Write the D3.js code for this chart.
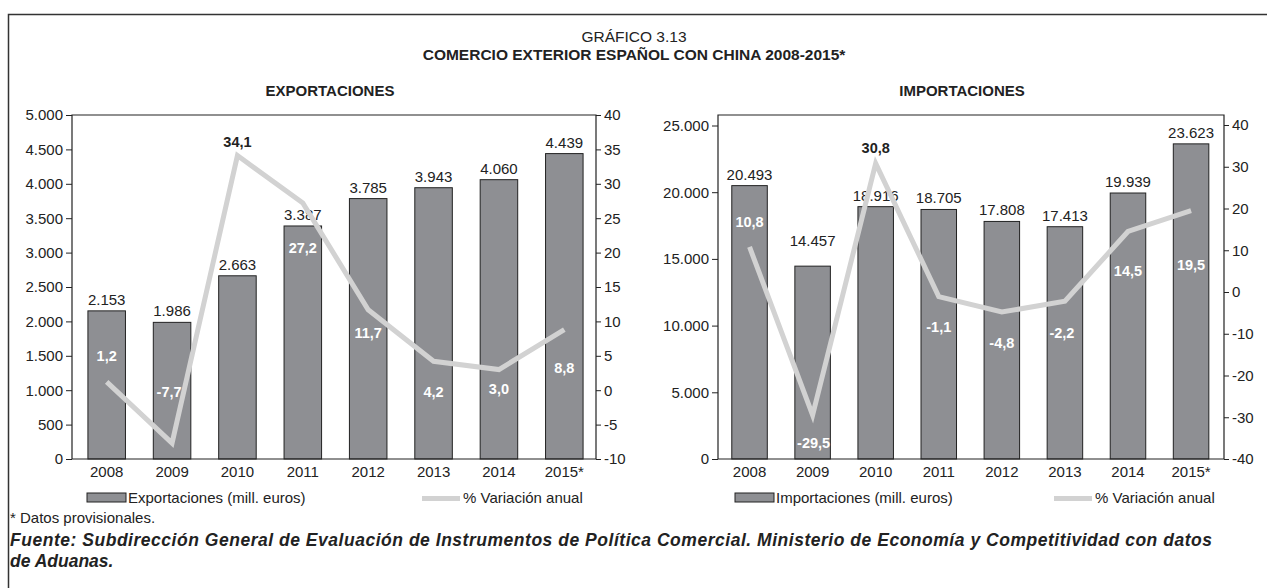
<!DOCTYPE html>
<html>
<head>
<meta charset="utf-8">
<script src="https://cdn.jsdelivr.net/npm/d3@7"></script>
<style>
  html, body { margin: 0; padding: 0; background: #fff; }
  svg { display: block; }
  text { font-family: "Liberation Sans", Arial, Helvetica, sans-serif; fill: #222; }
</style>
</head>
<body>
<svg id="chart" width="1267" height="588"></svg>
<script>
// ---------------- DATA ----------------
const years = ["2008", "2009", "2010", "2011", "2012", "2013", "2014", "2015*"];
const exportValues = [2153, 1986, 2663, 3387, 3785, 3943, 4060, 4439];
const exportPct = [1.2, -7.7, 34.1, 27.2, 11.7, 4.2, 3.0, 8.8];
const importValues = [20493, 14457, 18916, 18705, 17808, 17413, 19939, 23623];
const importPct = [10.8, -29.5, 30.8, -1.1, -4.8, -2.2, 14.5, 19.5];
const exportTicks = [0, 500, 1000, 1500, 2000, 2500, 3000, 3500, 4000, 4500, 5000];
const exportPctTicks = [-10, -5, 0, 5, 10, 15, 20, 25, 30, 35, 40];
const importTicks = [0, 5000, 10000, 15000, 20000, 25000];
const importPctTicks = [-40, -30, -20, -10, 0, 10, 20, 30, 40];

// ---------------- LAYOUT (label nudges in px) ----------------
const exportPctDy = [-21, -46, -9, 50, 28, 36, 24, 43];
const importPctDy = [-20, 33, -10, 35, 36, 37, 45, 59];
const exportPctDx = [0, -3, 0, 0, 0, 0, 0, 0];
const importPctDx = [0, 1, 0, 0, 0, -3, 0, 0];
const exportValueDy = [0, 0, 0, 0, 0, 0, 0, 0];
const importValueDy = [0, -14, 0, 0, 0, 0, 0, 0];

const loc = d3.formatLocale({decimal: ",", thousands: ".", grouping: [3], currency: ["", " €"], minus: "-"});
const fmtInt = loc.format(",d");
const fmtPct = loc.format(".1f");

const svg = d3.select("#chart");

// Outer frame
svg.append("path")
  .attr("d", "M8.5,588 L8.5,14.5 L1267,14.5")
  .attr("fill", "none").attr("stroke", "#333").attr("stroke-width", 1.5);

// Titles
svg.append("text").attr("x", 634).attr("y", 42).attr("text-anchor", "middle")
  .style("font-size", "15.5px").text("GRÁFICO 3.13");
svg.append("text").attr("x", 634).attr("y", 60).attr("text-anchor", "middle")
  .style("font-size", "15.5px").style("font-weight", "bold")
  .text("COMERCIO EXTERIOR ESPAÑOL CON CHINA 2008-2015*");

const BAR_FILL = "#8e8f93";
const LINE_COL = "#d2d2d2";

function drawPanel(cfg) {
  const g = svg.append("g");
  const x = d3.scaleBand().domain(years).range([cfg.bandStart, cfg.bandEnd])
    .paddingInner(cfg.padIn).paddingOuter(cfg.padIn / 2);
  const yL = d3.scaleLinear().domain(cfg.leftDomain).range([cfg.bottom, cfg.leftTopPx]);
  const yR = d3.scaleLinear().domain(cfg.rightDomain).range([cfg.bottom, cfg.rightTopPx]);

  // panel title
  g.append("text").attr("x", cfg.titleX).attr("y", cfg.titleY)
    .attr("text-anchor", "middle").style("font-size", "15px").style("font-weight", "bold")
    .text(cfg.title);

  // bars
  g.selectAll("rect.bar").data(cfg.values).join("rect").attr("class", "bar")
    .attr("x", (d, i) => x(years[i]))
    .attr("width", x.bandwidth())
    .attr("y", d => yL(d))
    .attr("height", d => cfg.bottom - yL(d))
    .attr("fill", BAR_FILL).attr("stroke", "#222").attr("stroke-width", 1);

  // bar value labels
  g.selectAll("text.val").data(cfg.values).join("text").attr("class", "val")
    .attr("x", (d, i) => x(years[i]) + x.bandwidth() / 2)
    .attr("y", (d, i) => yL(d) - 6 + cfg.valueDy[i])
    .attr("text-anchor", "middle").style("font-size", "15px")
    .text(d => fmtInt(d));

  // frame / axes lines
  g.append("path")
    .attr("d", `M${cfg.left},${cfg.bottom} L${cfg.left},${cfg.top} L${cfg.right},${cfg.top} L${cfg.right},${cfg.bottom} Z`)
    .attr("fill", "none").attr("stroke", "#222").attr("stroke-width", 1.2);

  // left axis
  const axL = g.append("g").attr("transform", `translate(${cfg.left},0)`)
    .call(d3.axisLeft(yL).tickValues(cfg.leftTicks).tickSize(6).tickPadding(3).tickFormat(fmtInt));
  axL.select(".domain").remove();
  axL.selectAll("line").attr("stroke", "#222");
  axL.selectAll("text").style("font-size", "15px").attr("fill", "#222");

  // right axis
  const axR = g.append("g").attr("transform", `translate(${cfg.right},0)`)
    .call(d3.axisRight(yR).tickValues(cfg.rightTicks).tickSize(5).tickPadding(3).tickFormat(d => loc.format("d")(d)));
  axR.select(".domain").remove();
  axR.selectAll("line").attr("stroke", "#222");
  axR.selectAll("text").style("font-size", "15px").attr("fill", "#222");

  // bottom axis
  const axB = g.append("g").attr("transform", `translate(0,${cfg.bottom})`)
    .call(d3.axisBottom(x).tickSize(0).tickPadding(7));
  axB.select(".domain").remove();
  axB.selectAll("text").style("font-size", "15px").attr("fill", "#222");

  // line
  const line = d3.line()
    .x((d, i) => x(years[i]) + x.bandwidth() / 2)
    .y(d => yR(d));
  g.append("path").datum(cfg.pct).attr("d", line)
    .attr("fill", "none").attr("stroke", LINE_COL).attr("stroke-width", 5)
    .attr("stroke-linejoin", "miter");

  // pct labels
  g.selectAll("text.pct").data(cfg.pct).join("text").attr("class", "pct")
    .attr("x", (d, i) => x(years[i]) + x.bandwidth() / 2 + cfg.pctDx[i])
    .attr("y", (d, i) => yR(d) + cfg.pctDy[i])
    .attr("text-anchor", "middle").style("font-size", "14.5px").style("font-weight", "bold")
    .style("fill", (d, i) => (yR(d) + cfg.pctDy[i] - 10 < yL(cfg.values[i])) ? "#222" : "#fff")
    .text(d => fmtPct(d));

  // legend
  const lg = g.append("g");
  lg.append("rect").attr("x", cfg.legX).attr("y", 493).attr("width", 39).attr("height", 9)
    .attr("fill", BAR_FILL).attr("stroke", "#222").attr("stroke-width", 1);
  lg.append("text").attr("x", cfg.legX + 41).attr("y", 503).style("font-size", "15px").text(cfg.legendLabel);
  lg.append("line").attr("x1", cfg.legLineX).attr("x2", cfg.legLineX + 38).attr("y1", 498.5).attr("y2", 498.5)
    .attr("stroke", LINE_COL).attr("stroke-width", 5);
  lg.append("text").attr("x", cfg.legLineX + 41).attr("y", 503).style("font-size", "15px").text("% Variación anual");
}

drawPanel({
  title: "EXPORTACIONES", titleX: 330, titleY: 96,
  left: 72, right: 596, top: 115, bottom: 459,
  bandStart: 74, bandEnd: 597, padIn: 0.426,
  leftDomain: [0, 5000], leftTopPx: 115,
  rightDomain: [-10, 40], rightTopPx: 115,
  leftTicks: exportTicks, rightTicks: exportPctTicks,
  values: exportValues, pct: exportPct,
  pctDy: exportPctDy, pctDx: exportPctDx, valueDy: exportValueDy,
  legX: 87, legLineX: 422, legendLabel: "Exportaciones (mill. euros)"
});

drawPanel({
  title: "IMPORTACIONES", titleX: 962, titleY: 96,
  left: 718, right: 1224, top: 115, bottom: 459,
  bandStart: 718, bandEnd: 1222.6, padIn: 0.437,
  leftDomain: [0, 25000], leftTopPx: 125.5,
  rightDomain: [-40, 40], rightTopPx: 125,
  leftTicks: importTicks, rightTicks: importPctTicks,
  values: importValues, pct: importPct,
  pctDy: importPctDy, pctDx: importPctDx, valueDy: importValueDy,
  legX: 735, legLineX: 1054, legendLabel: "Importaciones (mill. euros)"
});

// Footer
svg.append("text").attr("x", 10).attr("y", 523).style("font-size", "15px").text("* Datos provisionales.");
svg.append("text").attr("x", 10).attr("y", 546).style("font-size", "17.5px")
  .style("font-weight", "bold").style("font-style", "italic")
  .attr("textLength", 1202).attr("lengthAdjust", "spacing")
  .text("Fuente: Subdirección General de Evaluación de Instrumentos de Política Comercial. Ministerio de Economía y Competitividad con datos");
svg.append("text").attr("x", 10).attr("y", 567).style("font-size", "17.5px")
  .style("font-weight", "bold").style("font-style", "italic")
  .text("de Aduanas.");
</script>
</body>
</html>
